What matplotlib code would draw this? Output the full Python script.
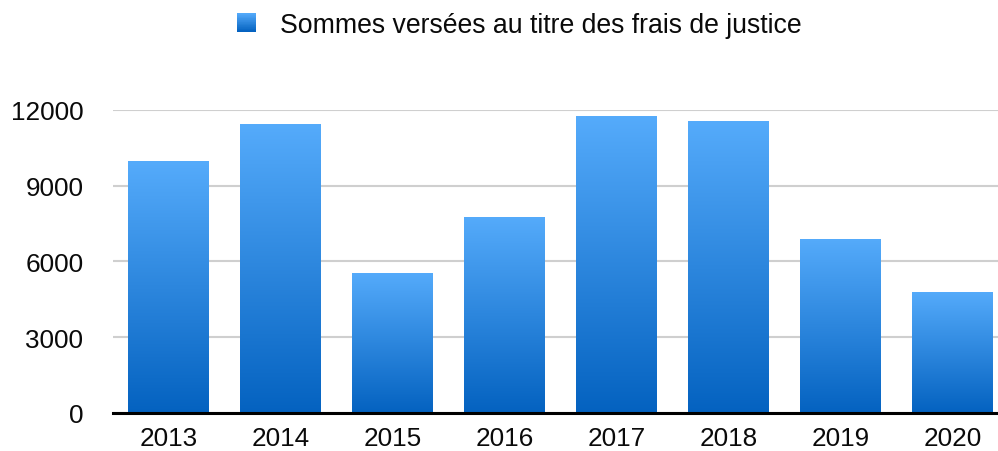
import numpy as np
import matplotlib
matplotlib.use("Agg")
import matplotlib.pyplot as plt
from matplotlib.patches import Rectangle
from matplotlib.legend_handler import HandlerBase
from matplotlib.colors import LinearSegmentedColormap

years = ["2013", "2014", "2015", "2016", "2017", "2018", "2019", "2020"]
values = [9970, 11430, 5540, 7755, 11750, 11550, 6885, 4790]
yticks = [0, 3000, 6000, 9000, 12000]
series_label = "Sommes versées au titre des frais de justice"

top_color = "#55abfb"
bottom_color = "#0462c0"
cmap = LinearSegmentedColormap.from_list("bluegrad", [bottom_color, top_color])

plt.rcParams['font.family'] = ['Liberation Sans', 'DejaVu Sans']

W, H = 998, 452
fig = plt.figure(figsize=(W / 100, H / 100), dpi=100)
ax = fig.add_axes([112.5 / W, 38 / H, 896 / W, 303.3 / H])

x = np.arange(len(years))
bars = ax.bar(x, values, width=0.72, color="none", edgecolor="none", zorder=3)
grad = np.linspace(0, 1, 256).reshape(-1, 1)
for b in bars:
    bx, by = b.get_x(), b.get_y()
    bw, bh = b.get_width(), b.get_height()
    im = ax.imshow(grad, cmap=cmap, origin="lower", aspect="auto",
                   extent=[bx, bx + bw, by, by + bh], zorder=3,
                   interpolation="bilinear")
    im.set_clip_path(b)

ax.set_xlim(-0.5, len(years) - 0.5)
ax.set_ylim(0, 12000)
ax.set_yticks(yticks)
ax.set_yticklabels([str(v) for v in yticks])
ax.set_xticks(x)
ax.set_xticklabels(years)
ax.tick_params(axis="both", length=0, labelsize=18.8, colors="#0a0a0a")
ax.tick_params(axis="y", pad=21)
ax.tick_params(axis="x", pad=9.5)
ax.grid(axis="y", color="#cfcfcf", linewidth=1.5, zorder=0)
for s in ["top", "right", "left"]:
    ax.spines[s].set_visible(False)
ax.spines["bottom"].set_color("#000000")
ax.spines["bottom"].set_linewidth(2.2)
ax.spines["bottom"].set_zorder(4)


class GradientHandler(HandlerBase):
    def create_artists(self, legend, orig_handle, xdescent, ydescent,
                       width, height, fontsize, trans):
        side = width
        y0 = -ydescent + height / 2 - side / 2
        n = 30
        arts = []
        for i in range(n):
            c = cmap(1 - i / (n - 1))
            r = Rectangle((-xdescent, y0 + side * (n - 1 - i) / n), side, side / n + 0.3,
                          facecolor=c, edgecolor="none", transform=trans)
            arts.append(r)
        return arts


proxy = Rectangle((0, 0), 1, 1)
leg = fig.legend([proxy], [series_label], handler_map={Rectangle: GradientHandler()},
                 loc="center", bbox_to_anchor=(519 / W, 1 - 26 / H), frameon=False,
                 fontsize=19.2, handlelength=0.71, handletextpad=0.9)
for t in leg.get_texts():
    t.set_color("#0a0a0a")

fig.savefig("out.png", dpi=100)
